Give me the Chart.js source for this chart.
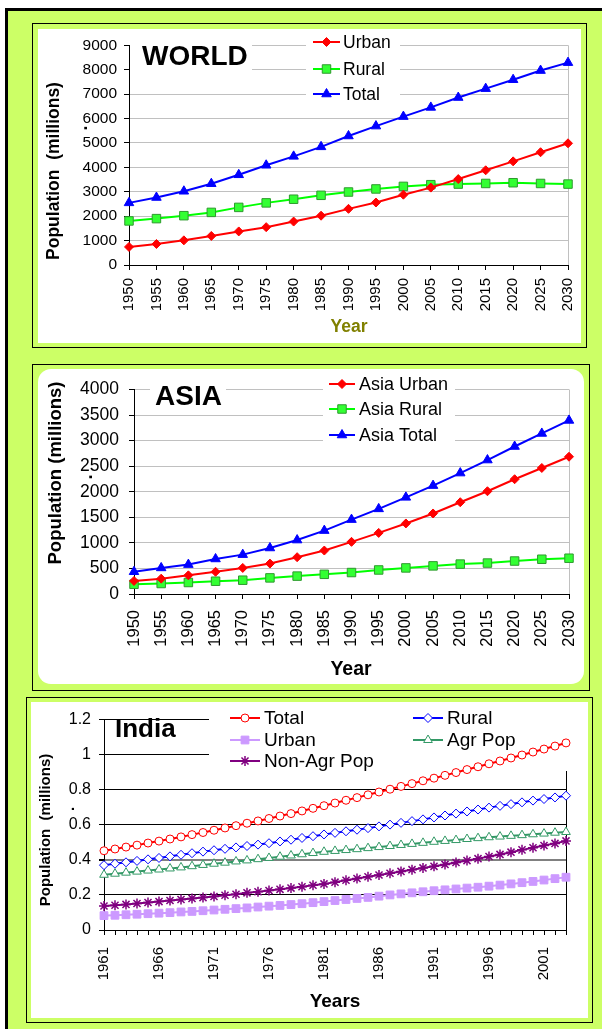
<!DOCTYPE html>
<html>
<head>
<meta charset="utf-8">
<script src="https://cdn.jsdelivr.net/npm/chart.js@4.4.1/dist/chart.umd.min.js"></script>
<style>
  html, body { margin: 0; padding: 0; background: #fff; }
  body { width: 602px; height: 1029px; overflow: hidden; position: relative; }
  #frame { position: absolute; left: 5px; top: 8px; width: 640px; height: 1060px; background: #ccff66; border: 3px solid #000; box-sizing: border-box; }
  .panel { position: absolute; border: 1px solid #000; box-sizing: border-box; background: #ccff66; }
  .sheet { position: absolute; background: #fff; overflow: hidden; }
  .sheet canvas { position: absolute; left: 0; top: 0; }
</style>
</head>
<body>
<div id="frame"></div>

<div class="panel" style="left:32px;top:23px;width:555px;height:325px"></div>
<div class="sheet" style="left:38px;top:29px;width:543px;height:314px"><canvas id="world" width="543" height="314"></canvas></div>

<div class="panel" style="left:32px;top:364px;width:558px;height:327px"></div>
<div class="sheet" style="left:38px;top:369px;width:546px;height:315px;border-radius:13px"><canvas id="asia" width="546" height="315"></canvas></div>

<div class="panel" style="left:26px;top:697px;width:567px;height:326px"></div>
<div class="sheet" style="left:31px;top:702px;width:557px;height:316px"><canvas id="india" width="557" height="315"></canvas></div>

<script>
// 세계 인구 (백만)
var worldYears = ['1950', '1955', '1960', '1965', '1970', '1975', '1980', '1985', '1990',
	'1995', '2000', '2005', '2010', '2015', '2020', '2025', '2030'];
var worldUrban = [740, 860, 1010, 1190, 1375, 1550, 1780, 2020, 2300, 2560, 2880, 3170, 3520, 3880, 4245, 4620, 4985];
var worldRural = [1805, 1900, 2020, 2155, 2360, 2545, 2695, 2855, 2990, 3115, 3220, 3290, 3315, 3340, 3370, 3340, 3315];
var worldTotal = [2545, 2765, 3020, 3330, 3695, 4085, 4450, 4840, 5285, 5690, 6080, 6455, 6860, 7225, 7590, 7965, 8290];
var worldYTicks = [0, 1000, 2000, 3000, 4000, 5000, 6000, 7000, 8000, 9000];

// 아시아 인구 (백만)
var asiaYears = ['1950', '1955', '1960', '1965', '1970', '1975', '1980', '1985', '1990',
	'1995', '2000', '2005', '2010', '2015', '2020', '2025', '2030'];
var asiaUrban = [255, 300, 365, 435, 510, 595, 720, 850, 1020, 1195, 1380, 1575, 1795, 2010, 2245, 2465, 2685];
var asiaRural = [190, 205, 225, 250, 270, 315, 350, 385, 420, 470, 510, 550, 585, 605, 645, 680, 700];
var asiaTotal = [435, 510, 575, 685, 770, 900, 1055, 1240, 1455, 1665, 1890, 2120, 2365, 2620, 2885, 3140, 3395];
var asiaYTicks = [0, 500, 1000, 1500, 2000, 2500, 3000, 3500, 4000];

// 인도 인구
var indiaYears = ['1961', '1962', '1963', '1964', '1965', '1966', '1967', '1968', '1969', '1970',
	'1971', '1972', '1973', '1974', '1975', '1976', '1977', '1978', '1979', '1980',
	'1981', '1982', '1983', '1984', '1985', '1986', '1987', '1988', '1989', '1990',
	'1991', '1992', '1993', '1994', '1995', '1996', '1997', '1998', '1999', '2000',
	'2001', '2002', '2003'];
var indiaTotal = [0.452, 0.462, 0.473, 0.484, 0.496, 0.507, 0.519, 0.531, 0.544, 0.556,
	0.569, 0.582, 0.595, 0.609, 0.622, 0.636, 0.650, 0.664, 0.679, 0.694,
	0.709, 0.724, 0.740, 0.755, 0.771, 0.787, 0.803, 0.819, 0.835, 0.851,
	0.866, 0.882, 0.898, 0.915, 0.931, 0.948, 0.964, 0.981, 0.998, 1.015,
	1.032, 1.049, 1.067];
var indiaRural = [0.370, 0.378, 0.386, 0.394, 0.403, 0.411, 0.420, 0.429, 0.438, 0.447,
	0.455, 0.463, 0.471, 0.479, 0.487, 0.495, 0.505, 0.515, 0.525, 0.535,
	0.545, 0.554, 0.563, 0.572, 0.581, 0.591, 0.601, 0.611, 0.621, 0.631,
	0.642, 0.653, 0.664, 0.676, 0.687, 0.698, 0.708, 0.718, 0.728, 0.738,
	0.747, 0.756, 0.766];
var indiaUrban = [0.082, 0.084, 0.087, 0.090, 0.093, 0.096, 0.099, 0.103, 0.106, 0.110,
	0.114, 0.118, 0.122, 0.126, 0.131, 0.136, 0.140, 0.145, 0.150, 0.156,
	0.162, 0.168, 0.174, 0.180, 0.186, 0.193, 0.200, 0.206, 0.212, 0.218,
	0.224, 0.229, 0.234, 0.239, 0.244, 0.250, 0.256, 0.263, 0.270, 0.277,
	0.285, 0.293, 0.301];
var indiaAgr = [0.315, 0.321, 0.327, 0.333, 0.339, 0.345, 0.351, 0.357, 0.364, 0.371,
	0.378, 0.384, 0.391, 0.397, 0.404, 0.411, 0.418, 0.425, 0.432, 0.439,
	0.446, 0.451, 0.456, 0.461, 0.467, 0.473, 0.479, 0.485, 0.491, 0.497,
	0.503, 0.508, 0.513, 0.519, 0.524, 0.529, 0.533, 0.537, 0.541, 0.546,
	0.550, 0.555, 0.559];
var indiaNonAgr = [0.137, 0.141, 0.146, 0.151, 0.157, 0.162, 0.168, 0.174, 0.180, 0.185,
	0.191, 0.198, 0.204, 0.212, 0.218, 0.225, 0.232, 0.239, 0.247, 0.255,
	0.263, 0.273, 0.284, 0.294, 0.304, 0.314, 0.324, 0.334, 0.344, 0.354,
	0.363, 0.374, 0.385, 0.396, 0.407, 0.419, 0.431, 0.444, 0.457, 0.469,
	0.482, 0.494, 0.508];
var indiaYTicks = [0, 0.2, 0.4, 0.6, 0.8, 1, 1.2];

var FONT = '"Liberation Sans", Arial, Helvetica, sans-serif';
Chart.defaults.font.family = FONT;
Chart.defaults.color = '#000';

function font(size, bold) {
	return (bold ? 'bold ' : '') + size + 'px ' + FONT;
}

// 범례 마커 그리기
function marker(ctx, ds, x, y) {
	ctx.fillStyle = ds.pointBackgroundColor;
	ctx.strokeStyle = ds.pointBorderColor;
	ctx.lineWidth = ds.pointBorderWidth;
	Chart.helpers.drawPoint(ctx, {
		pointStyle : ds.pointStyle,
		radius : ds.pointRadius,
		rotation : 0,
		borderWidth : ds.pointBorderWidth
	}, x, y);
}

// 흰 박스, 범례, 축 라벨, 제목
function decor(spec) {
	var ox = spec.origin[0], oy = spec.origin[1];
	return {
		id : 'decor',
		beforeDatasetsDraw : function(chart) {
			var ctx = chart.ctx;
			ctx.save();
			ctx.fillStyle = '#fff';
			spec.boxes.forEach(function(b) {
				ctx.fillRect(b[0] - ox, b[1] - oy, b[2], b[3]);
			});
			spec.legend.forEach(function(item) {
				var ds = chart.data.datasets[item[0]];
				var x = item[1] - ox, y = item[2] - oy;
				ctx.strokeStyle = ds.borderColor;
				ctx.lineWidth = ds.borderWidth;
				ctx.beginPath();
				ctx.moveTo(x, y);
				ctx.lineTo(x + spec.legendLine, y);
				ctx.stroke();
				marker(ctx, ds, x + spec.legendLine / 2, y);
				ctx.fillStyle = '#000';
				ctx.font = spec.legendFont;
				ctx.textAlign = 'left';
				ctx.textBaseline = 'middle';
				ctx.fillText(ds.label, x + spec.legendLine + spec.legendGap, y + 1);
			});
			ctx.restore();
		},
		afterDraw : function(chart) {
			var ctx = chart.ctx;
			var xs = chart.scales.x;
			ctx.save();
			ctx.fillStyle = '#000';
			ctx.font = spec.xTickFont;
			ctx.textAlign = 'right';
			ctx.textBaseline = 'middle';
			xs.ticks.forEach(function(t, i) {
				if (i % spec.labelStep) return;
				ctx.save();
				ctx.translate(xs.getPixelForTick(i), xs.top + spec.xLabelGap);
				ctx.rotate(-Math.PI / 2);
				ctx.fillText(chart.data.labels[i], 0, 0);
				ctx.restore();
			});
			spec.texts.forEach(function(tx) {
				ctx.save();
				ctx.font = tx.font;
				ctx.fillStyle = tx.color || '#000';
				ctx.textAlign = tx.align || 'left';
				ctx.textBaseline = 'alphabetic';
				ctx.translate(tx.x - ox, tx.y - oy);
				if (tx.rot) ctx.rotate(-Math.PI / 2);
				ctx.fillText(tx.t, 0, 0);
				ctx.restore();
			});
			ctx.restore();
		}
	};
}

function series(label, data, color, style, radius, fill, edge, edgeWidth) {
	return {
		label : label,
		data : data,
		borderColor : color,
		backgroundColor : color,
		borderWidth : 2,
		tension : 0,
		fill : false,
		clip : false,
		pointStyle : style,
		pointRadius : radius,
		pointHoverRadius : radius,
		pointBackgroundColor : fill,
		pointBorderColor : edge,
		pointBorderWidth : edgeWidth
	};
}

function build(id, spec) {
	var n = spec.labels.length;
	return new Chart(document.getElementById(id), {
		type : 'line',
		data : { labels : spec.labels, datasets : spec.datasets },
		options : {
			responsive : false,
			animation : false,
			events : [],
			layout : { padding : { left : 0, top : spec.padTop, right : spec.padRight, bottom : 0 } },
			plugins : { legend : { display : false }, tooltip : { enabled : false } },
			scales : {
				x : {
					type : 'category',
					offset : false,
					ticks : { display : false, autoSkip : false },
					grid : {
						drawOnChartArea : true,
						drawTicks : true,
						tickLength : 5,
						lineWidth : 1,
						color : function(c) { return c.index === n - 1 ? spec.frameColor : 'rgba(0,0,0,0)'; },
						tickColor : '#000'
					},
					border : { display : true, color : '#000', width : 1 },
					afterFit : function(s) { s.height = spec.xAxisHeight; }
				},
				y : {
					min : spec.yTicks[0],
					max : spec.yTicks[spec.yTicks.length - 1],
					afterBuildTicks : function(s) {
						s.ticks = spec.yTicks.map(function(v) { return { value : v }; });
					},
					ticks : {
						font : { size : spec.yTickSize },
						color : '#000',
						padding : spec.yPad,
						callback : function(v) { return String(v); }
					},
					grid : {
						tickLength : 5,
						color : function(c) { return spec.gridColor(c.tick ? c.tick.value : 0); },
						lineWidth : function(c) { return spec.gridWidth(c.tick ? c.tick.value : 0); },
						tickColor : '#000'
					},
					border : { display : true, color : '#000', width : 1 },
					afterFit : function(s) { s.width = spec.yAxisWidth; }
				}
			}
		},
		plugins : [ decor(spec) ]
	});
}

// WORLD
build('world', {
	origin : [38, 29],
	labels : worldYears,
	datasets : [
		series('Urban', worldUrban, '#ff0000', 'rectRot', 4.5, '#ff0000', '#ff0000', 1),
		series('Rural', worldRural, '#00ff00', 'rect', 6, '#33ff33', '#2e9a2e', 1),
		series('Total', worldTotal, '#0000ff', 'triangle', 5.5, '#0000ff', '#0000ff', 1)
	],
	yTicks : worldYTicks,
	padTop : 13, padRight : 13, yAxisWidth : 91, xAxisHeight : 78,
	yTickSize : 15.5, yPad : 7,
	frameColor : '#c0c0c0',
	gridColor : function(v) { return v === 0 ? '#000' : '#c0c0c0'; },
	gridWidth : function(v) { return 1; },
	labelStep : 1, xLabelGap : 13, xTickFont : font(15, false),
	boxes : [ [130, 44, 122, 27], [306, 31, 94, 75] ],
	legend : [ [0, 313, 42], [1, 313, 69], [2, 313, 94] ],
	legendLine : 27, legendGap : 3, legendFont : font(17.5, false),
	texts : [
		{ t : 'WORLD', x : 142, y : 65, font : font(28, true) },
		{ t : 'Population  (millions)', x : 58.5, y : 171, font : font(17.5, true), align : 'center', rot : true },
		{ t : '.', x : 87, y : 128, font : font(17.5, true), align : 'center', rot : true },
		{ t : 'Year', x : 349, y : 332, font : font(17.5, true), align : 'center', color : '#808000' }
	]
});

// ASIA
build('asia', {
	origin : [38, 369],
	labels : asiaYears,
	datasets : [
		series('Asia Urban', asiaUrban, '#ff0000', 'rectRot', 4.5, '#ff0000', '#ff0000', 1),
		series('Asia Rural', asiaRural, '#00ff00', 'rect', 6, '#33ff33', '#2e9a2e', 1),
		series('Asia Total', asiaTotal, '#0000ff', 'triangle', 5.5, '#0000ff', '#0000ff', 1)
	],
	yTicks : asiaYTicks,
	padTop : 15, padRight : 15, yAxisWidth : 96, xAxisHeight : 90,
	yTickSize : 17.5, yPad : 10,
	frameColor : '#c0c0c0',
	gridColor : function(v) { return v === 0 ? '#000' : '#c0c0c0'; },
	gridWidth : function(v) { return 1; },
	labelStep : 1, xLabelGap : 16, xTickFont : font(16.5, false),
	boxes : [ [150, 376, 76, 38], [323, 376, 132, 71] ],
	legend : [ [0, 329, 384], [1, 329, 409], [2, 329, 435] ],
	legendLine : 26, legendGap : 4, legendFont : font(18, false),
	texts : [
		{ t : 'ASIA', x : 155, y : 405, font : font(28, true) },
		{ t : 'Population (millions)', x : 61, y : 473, font : font(18.5, true), align : 'center', rot : true },
		{ t : '.', x : 92, y : 477, font : font(18.5, true), align : 'center', rot : true },
		{ t : 'Year', x : 351, y : 675, font : font(19.5, true), align : 'center' }
	]
});

// India
build('india', {
	origin : [31, 702],
	labels : indiaYears,
	datasets : [
		series('Total', indiaTotal, '#ff0000', 'circle', 4, '#ffffff', '#ff0000', 1),
		series('Rural', indiaRural, '#0000ff', 'rectRot', 4.5, '#ffffff', '#0000ff', 1),
		series('Urban', indiaUrban, '#cc99ff', 'rect', 5.5, '#cc99ff', '#cc99ff', 1),
		series('Agr Pop', indiaAgr, '#339966', 'triangle', 5, '#ffffff', '#339966', 1),
		series('Non-Agr Pop', indiaNonAgr, '#800080', 'star', 5, '#800080', '#800080', 1.5)
	],
	yTicks : indiaYTicks,
	padTop : 15, padRight : 22, yAxisWidth : 73, xAxisHeight : 87,
	yTickSize : 16, yPad : 8,
	frameColor : '#000',
	gridColor : function(v) { return v === 0.4 ? '#808080' : '#000'; },
	gridWidth : function(v) { return v === 0.4 ? 2 : 1; },
	labelStep : 5, xLabelGap : 17, xTickFont : font(15, false),
	boxes : [ [209, 703, 380, 68] ],
	legend : [ [0, 230, 718], [1, 413, 718], [2, 230, 740], [3, 413, 740], [4, 230, 761] ],
	legendLine : 30, legendGap : 4, legendFont : font(19, false),
	texts : [
		{ t : 'India', x : 115, y : 737, font : font(26, true) },
		{ t : 'Population  (millions)', x : 50, y : 830, font : font(15, true), align : 'center', rot : true },
		{ t : '.', x : 74, y : 809, font : font(15, true), align : 'center', rot : true },
		{ t : 'Years', x : 335, y : 1007, font : font(19, true), align : 'center' }
	]
});
</script>
</body>
</html>
